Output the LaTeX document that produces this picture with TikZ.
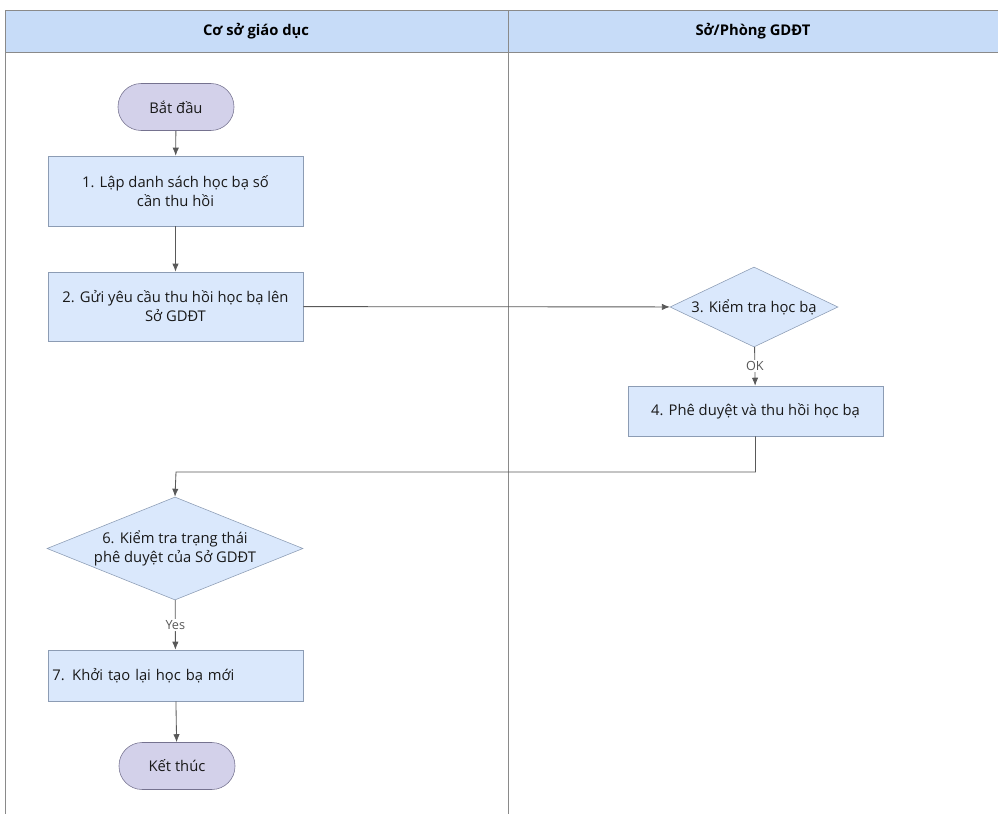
\documentclass[tikz,border=0pt]{standalone}
\usepackage{fontspec}
\setmainfont{Open Sans}
\usetikzlibrary{shapes.geometric,arrows.meta}
\definecolor{laneblue}{HTML}{C7DCF8}
\definecolor{boxblue}{HTML}{DAE8FC}
\definecolor{boxline}{HTML}{8C9CB4}
\definecolor{pillfill}{HTML}{D3D1EA}
\definecolor{pillline}{HTML}{75728F}
\definecolor{lanegrey}{HTML}{8A8A8A}
\tikzset{
  proc/.style={rectangle, draw=boxline, fill=boxblue, minimum width=63.75mm, align=center, font=\fontsize{10.5}{13.5}\selectfont, text=black!90},
  pill/.style={rectangle, rounded corners=5.8mm, draw=pillline, fill=pillfill, minimum width=29mm, minimum height=11.75mm, font=\fontsize{10.5}{13.5}\selectfont, text=black!90},
  dec/.style={diamond, draw=boxline, fill=boxblue, inner sep=0pt},
  flow/.style={draw=black!65, line width=0.6pt, -{Latex[length=2mm,width=1.6mm]}},
  cond/.style={fill=white, inner sep=1pt, font=\fontsize{9}{10}\selectfont, text=black!65}
}
\begin{document}
\begin{tikzpicture}[x=0.25mm,y=-0.25mm]
\useasboundingbox (0,0) rectangle (998,814);

% lanes
\draw[lanegrey, fill=laneblue, line width=0.5pt] (5,10) rectangle (998,52);
\draw[lanegrey, line width=0.5pt] (5,10) -- (5,814);
\draw[lanegrey, line width=0.5pt] (508,10) -- (508,814);
\node[font=\bfseries\fontsize{10.5}{12}\selectfont] (laneA) at (256,31) {Cơ sở giáo dục};
\node[font=\bfseries\fontsize{10.5}{12}\selectfont] (laneB) at (753,31) {Sở/Phòng GDĐT};

% steps
\node[pill] (start) at (176,107) {Bắt đầu};
\node[proc, minimum height=17.5mm] (s1) at (175.5,191) {1. Lập danh sách học bạ số\\cần thu hồi};
\node[proc, minimum height=17.25mm] (s2) at (175.5,306.5) {2. Gửi yêu cầu thu hồi học bạ lên\\Sở GDĐT};
\node[dec, minimum width=42mm, minimum height=20mm, label={[name=s3t, font=\fontsize{10.5}{13.5}\selectfont, text=black!90]center:3. Kiểm tra học bạ}] (s3) at (754,307) {};
\node[proc, minimum height=12.5mm] (s4) at (755.5,411) {4. Phê duyệt và thu hồi học bạ};
\node[dec, minimum width=64mm, minimum height=25.75mm, label={[name=s6t, align=center, font=\fontsize{10.5}{13.5}\selectfont, text=black!90]center:6. Kiểm tra trạng thái\\phê duyệt của Sở GDĐT}] (s6) at (175,548.5) {};
\node[proc, minimum height=12.75mm, text width=61.5mm, align=left] (s7) at (175.5,675.5) {7. Khởi tạo lại học bạ mới};
\node[pill] (stop) at (177,766) {Kết thúc};

% arrows
\draw[flow] (start) -- (s1);
\draw[flow] (s1) -- (s2);
\draw[flow] (s2) -- (s3);
\draw[flow] (s3) -- node[cond] {OK} (s4);
\draw[flow] (s4.south) |- (176,472) -- (s6.north);
\draw[flow] (s6) -- node[cond] {Yes} (s7);
\draw[flow] (s7) -- (stop);
\end{tikzpicture}
\end{document}
